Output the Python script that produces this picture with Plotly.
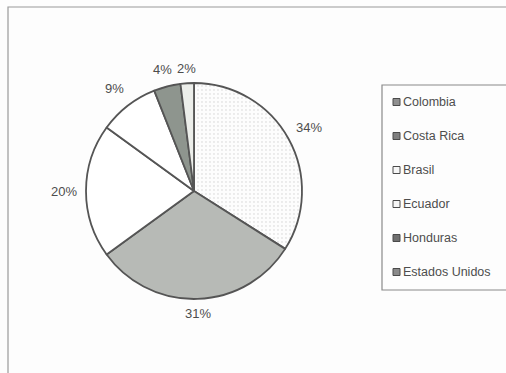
import math
import plotly.graph_objects as go

# Share by origin country
countries = ["Colombia", "Costa Rica", "Brasil", "Ecuador", "Honduras", "Estados Unidos"]
shares = [34, 31, 20, 9, 4, 2]
slice_colors = ["#e4e4e4", "#b7bab6", "#ffffff", "#ffffff", "#8e958e", "#eceeea"]
swatch_colors = ["#8f8f8f", "#7f7f7f", "#f6f6f6", "#f6f6f6", "#6f6f6f", "#8a8a8a"]

W, H = 506, 373
cx, cy, r = 194, 191, 108  # pie centre and radius in pixels
FONT = "Liberation Sans, Arial"
TXT = "#4d4d4d"

fig = go.Figure()
fig.add_trace(go.Pie(
    labels=countries,
    values=shares,
    sort=False,
    direction="clockwise",
    rotation=0,
    marker=dict(colors=slice_colors, line=dict(color="#555555", width=1.8),
                pattern=dict(shape=[".", "", "", "", "", ""], fgcolor="#d2d2d2",
                             size=4, solidity=0.1)),
    textinfo="none",
    showlegend=False,
    hoverinfo="label+percent",
    domain=dict(x=[(cx - r) / W, (cx + r) / W], y=[1 - (cy + r) / H, 1 - (cy - r) / H]),
))

annotations = []
# percentage labels just outside each slice, at the slice's mid angle
total = sum(shares)
cum = 0
hw, hh, gap = 14, 6, 8
for v in shares:
    mid = (cum + v / 2) / total * 2 * math.pi
    cum += v
    dx, dy = math.sin(mid), -math.cos(mid)
    d = r + gap + abs(dx) * hw + abs(dy) * hh
    px, py = cx + d * dx, cy + d * dy
    annotations.append(dict(x=px / W, y=1 - py / H, xref="paper", yref="paper",
                            text=f"{v}%", showarrow=False, xanchor="center", yanchor="middle",
                            font=dict(family=FONT, size=13, color=TXT)))

shapes = [
    # outer chart frame
    dict(type="rect", xref="paper", yref="paper",
         x0=8 / W, x1=1.02, y0=-0.02, y1=1 - 7 / H,
         line=dict(color="#9a9a9a", width=1.2)),
    # legend box
    dict(type="rect", xref="paper", yref="paper",
         x0=382 / W, x1=1.02, y0=1 - 290 / H, y1=1 - 85 / H,
         line=dict(color="#8a8a8a", width=1.2)),
]
top, step = 102, 34
for i, (name, col) in enumerate(zip(countries, swatch_colors)):
    y = top + i * step
    shapes.append(dict(type="rect", xref="paper", yref="paper",
                       x0=393 / W, x1=400 / W, y0=1 - (y + 3.5) / H, y1=1 - (y - 3.5) / H,
                       fillcolor=col, line=dict(color="#4a4a4a", width=1)))
    annotations.append(dict(x=401 / W, y=1 - y / H, xref="paper", yref="paper",
                            text=name, showarrow=False, xanchor="left", yanchor="middle",
                            font=dict(family=FONT, size=12.5, color=TXT)))

fig.update_layout(
    width=W, height=H,
    margin=dict(l=0, r=0, t=0, b=0),
    paper_bgcolor="#fdfdfd",
    plot_bgcolor="#fdfdfd",
    shapes=shapes,
    annotations=annotations,
)

fig.write_html("out.html")
